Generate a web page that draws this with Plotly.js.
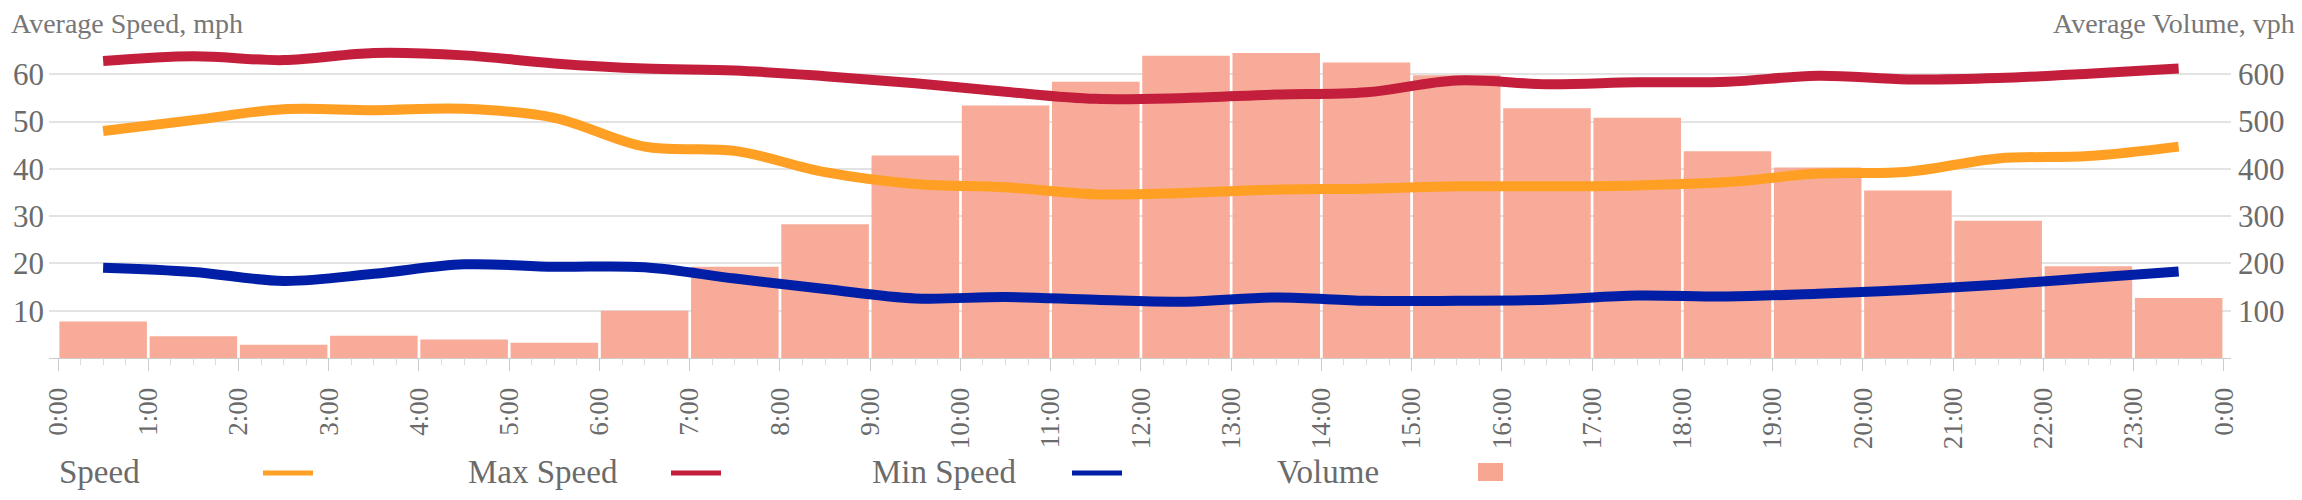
<!DOCTYPE html>
<html>
<head>
<meta charset="utf-8">
<script src="https://cdn.plot.ly/plotly-3.0.1.min.js"></script>
<style>
  html, body { margin: 0; padding: 0; background: #ffffff; }
  #chart { width: 2302px; height: 500px; }
</style>
</head>
<body>
<div id="chart"></div>
<script>
// ---- data ----
const hourLabels = ["0:00","1:00","2:00","3:00","4:00","5:00","6:00","7:00","8:00","9:00","10:00","11:00",
                    "12:00","13:00","14:00","15:00","16:00","17:00","18:00","19:00","20:00","21:00","22:00","23:00","0:00"];
const speed    = [48.0, 50.3, 52.6, 52.4, 52.7, 50.8, 44.7, 43.8, 39.3, 36.8, 36.1, 34.6,
                  34.9, 35.6, 35.8, 36.3, 36.3, 36.5, 37.2, 39.0, 39.4, 42.2, 42.7, 44.7];
const maxSpeed = [62.8, 63.8, 63.0, 64.5, 64.0, 62.3, 61.2, 60.8, 59.6, 58.1, 56.3, 54.8,
                  55.0, 55.7, 56.2, 58.7, 57.9, 58.3, 58.4, 59.7, 58.9, 59.2, 60.1, 61.2];
const minSpeed = [19.1, 18.2, 16.3, 17.8, 19.8, 19.3, 19.2, 16.8, 14.6, 12.6, 12.9, 12.3,
                  11.9, 12.8, 12.1, 12.1, 12.3, 13.2, 13.0, 13.6, 14.4, 15.5, 16.9, 18.3];
const volume   = [77, 46, 28, 47, 39, 32, 100, 193, 283, 428, 534, 584,
                  639, 645, 625, 598, 528, 508, 437, 403, 354, 290, 194, 127];
const speedTicks  = [10, 20, 30, 40, 50, 60];
const volumeTicks = [100, 200, 300, 400, 500, 600];
const seriesNames = ["Speed", "Max Speed", "Min Speed", "Volume"];

// ---- styling ----
const FONT = "'Liberation Serif', 'Times New Roman', Times, 'DejaVu Serif', serif";
const GREY = "#6b6b6b";
const C_SPEED = "#FFA024", C_MAX = "#C41E3D", C_MIN = "#001EA6", C_VOL = "#F7A692";

const hourIdx = hourLabels.map((_, i) => i);          // tick positions 0..24
const mid = speed.map((_, i) => i + 0.5);              // hour mid-points

const W = 2302, H = 500;
const M = { l: 49, r: 71, t: 27, b: 142 };
const PW = W - M.l - M.r, PH = H - M.t - M.b;
const px = x => (x - M.l) / PW;          // pixel -> paper (layout helpers only)
const py = y => (H - M.b - y) / PH;

const lineTrace = (name, y, color) => ({
  type: "scatter", mode: "lines", name, x: mid, y, yaxis: "y2",
  line: { color, width: 10, shape: "spline", smoothing: 1 },
  hoverinfo: "x+y+name"
});

const traces = [
  { type: "bar", name: seriesNames[3], x: mid, y: volume, yaxis: "y",
    marker: { color: C_VOL, opacity: 0.95, line: { width: 0 } } },
  lineTrace(seriesNames[0], speed, C_SPEED),
  lineTrace(seriesNames[1], maxSpeed, C_MAX),
  lineTrace(seriesNames[2], minSpeed, C_MIN)
];

// legend: label text followed by its swatch
const legendText = [59, 468, 872, 1277];
const legendSym  = [[263, 313], [671, 721], [1072, 1122]];
const symColors  = [C_SPEED, C_MAX, C_MIN];
const annotations = [
  { text: "Average Speed, mph", xref: "paper", yref: "paper", x: px(9), y: py(23),
    xanchor: "left", yanchor: "middle", showarrow: false, font: { family: FONT, size: 28, color: "#777" } },
  { text: "Average Volume, vph", xref: "paper", yref: "paper", x: px(2297), y: py(23),
    xanchor: "right", yanchor: "middle", showarrow: false, font: { family: FONT, size: 28, color: "#777" } }
];
seriesNames.forEach((n, i) => annotations.push({
  text: n, xref: "paper", yref: "paper", x: px(legendText[i] - 2), y: py(472),
  xanchor: "left", yanchor: "middle", showarrow: false, font: { family: FONT, size: 33, color: GREY }
}));
const shapes = legendSym.map((s, i) => ({
  type: "line", xref: "paper", yref: "paper", x0: px(s[0]), x1: px(s[1]), y0: py(473), y1: py(473),
  line: { color: symColors[i], width: 5 }
}));
shapes.push({
  type: "rect", xref: "paper", yref: "paper", x0: px(1478), x1: px(1503), y0: py(481), y1: py(463),
  fillcolor: C_VOL, line: { width: 0 }
});

const layout = {
  width: W, height: H,
  margin: M,
  paper_bgcolor: "#ffffff", plot_bgcolor: "#ffffff",
  showlegend: false,
  bargap: 0.03,
  font: { family: FONT, color: GREY },
  xaxis: {
    range: [-0.1, 24.08], tickmode: "array", tickvals: hourIdx, ticktext: hourLabels,
    tickangle: -90, tickfont: { family: FONT, size: 27, color: GREY },
    ticks: "outside", ticklen: 12, tickcolor: "#cccccc", tickwidth: 1,
    ticklabelstandoff: 6,
    minor: { dtick: 0.25, ticks: "outside", ticklen: 6, tickcolor: "#dddddd", tickwidth: 1, showgrid: false },
    showgrid: false, zeroline: false, showline: true, linecolor: "#cccccc", linewidth: 1
  },
  yaxis: {
    side: "right", range: [0, 700], tickmode: "array", tickvals: volumeTicks,
    tickfont: { family: FONT, size: 31, color: GREY }, ticks: "", ticklabelstandoff: 6,
    showgrid: true, gridcolor: "#e3e3e3", gridwidth: 2, zeroline: false, showline: false
  },
  yaxis2: {
    side: "left", overlaying: "y", range: [0, 70], tickmode: "array", tickvals: speedTicks,
    tickfont: { family: FONT, size: 31, color: GREY }, ticks: "", ticklabelstandoff: 4,
    showgrid: false, zeroline: false, showline: false
  },
  annotations, shapes
};

Plotly.newPlot("chart", traces, layout, { displayModeBar: false, staticPlot: true });
</script>
</body>
</html>
